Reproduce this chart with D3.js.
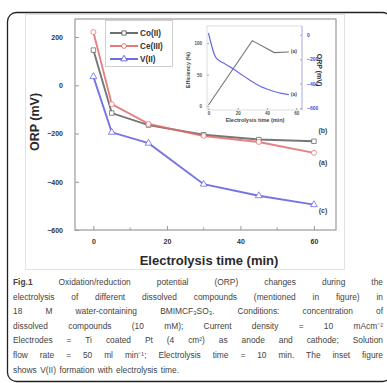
<!DOCTYPE html>
<html>
<head>
<meta charset="utf-8">
<script src="https://cdn.jsdelivr.net/npm/d3@7"></script>
<style>
  body { margin: 0; background: #fff; }
  svg { display: block; }
</style>
</head>
<body>
<main></main>
<script>
// Constants
const WIDTH = 387;
const HEIGHT = 383;
const FONT = '"Liberation Sans", Arial, sans-serif';

// Main chart data
const TIMES = [0, 5, 15, 30, 45, 60];
const SERIES = ['Co(II)', 'Ce(III)', 'V(II)'];
const CO_VALUES = [146, -115, -165, -205, -225, -232];
const CE_VALUES = [221, -78, -160, -210, -235, -280];
const V_VALUES = [36, -195, -240, -410, -458, -495];
const END_LABELS = ['(b)', '(a)', '(c)'];
const X_TICKS = [0, 20, 40, 60];
const X_MINOR = [10, 30, 50];
const Y_TICKS = [200, 0, -200, -400, -600];

// Inset data
const INSET_EFF_TIMES = [0, 30, 45, 55];
const INSET_EFF = [2, 104, 85, 86];
const INSET_ORP_TIMES = [0, 5, 10, 15, 20, 25, 30, 35, 40, 45, 50, 55];
const INSET_ORP = [15, -185, -230, -265, -305, -345, -385, -420, -445, -465, -480, -490];
const INSET_X_TICKS = [0, 20, 40, 60];
const INSET_EFF_TICKS = [0, 50, 100];
const INSET_ORP_TICKS = [0, -200, -400, -600];
const INSET_END_LABELS = ['(a)', '(a)'];

// Caption lines
const CAPTION = [
  ['Fig.1', 'Oxidation/reduction potential (ORP) changes during the'],
  ['', 'electrolysis of different dissolved compounds (mentioned in figure) in'],
  ['', '18 M water-containing BMIMCF\u2083SO\u2083. Conditions: concentration of'],
  ['', 'dissolved compounds (10 mM); Current density = 10 mAcm\u207B\u00B2'],
  ['', 'Electrodes = Ti coated Pt (4 cm\u00B2) as anode and cathode; Solution'],
  ['', 'flow rate = 50 ml min\u207B\u00B9; Electrolysis time = 10 min. The inset figure'],
  ['', 'shows V(II) formation with electrolysis time.'],
];

const COLORS = ['#5b605c', '#e36a6a', '#5c5ce0'];
const MARKERS = [d3.symbolSquare, d3.symbolCircle, d3.symbolTriangle];

const svg = d3.select('main')
  .append('svg')
  .attr('width', WIDTH)
  .attr('height', HEIGHT)
  .style('font-family', FONT);

// Outer rounded frame
svg.append('rect')
  .attr('x', 7.5).attr('y', 12.5)
  .attr('width', 384).attr('height', 369)
  .attr('rx', 9)
  .attr('fill', 'none')
  .attr('stroke', '#222')
  .attr('stroke-width', 1.3);

// Light figure frame
svg.append('rect')
  .attr('x', 25.5).attr('y', 14.5)
  .attr('width', 319).attr('height', 255)
  .attr('fill', 'none')
  .attr('stroke', '#e2e2e2');

// Scales
const xScale = d3.scaleLinear([-5, 66], [75, 336]);
const yScale = d3.scaleLinear([-600, 275], [230, 19]);

// Plot frame
svg.append('rect')
  .attr('x', 75).attr('y', 19)
  .attr('width', 261).attr('height', 211)
  .attr('fill', 'none')
  .attr('stroke', '#9a9a9a')
  .attr('stroke-width', 1.2);

// Axes
const yAxis = d3.axisLeft(yScale).tickValues(Y_TICKS)
  .tickSizeInner(-4).tickSizeOuter(0).tickPadding(12);
const xAxis = d3.axisBottom(xScale).tickValues(X_TICKS)
  .tickSizeInner(-4).tickSizeOuter(0).tickPadding(9);

const gy = svg.append('g').attr('transform', 'translate(75,0)').call(yAxis);
const gx = svg.append('g').attr('transform', 'translate(0,230)').call(xAxis);
[gx, gy].forEach((g) => {
  g.select('.domain').remove();
  g.selectAll('line').attr('stroke', '#999');
  g.selectAll('text')
    .attr('font-size', 7)
    .attr('font-weight', 'bold')
    .attr('font-family', FONT)
    .attr('fill', '#333');
});

svg.append('g')
  .selectAll('line')
  .data(X_MINOR)
  .join('line')
  .attr('x1', (d) => xScale(d)).attr('x2', (d) => xScale(d))
  .attr('y1', 230).attr('y2', 227.5)
  .attr('stroke', '#999');

// Axis titles
svg.append('text')
  .attr('x', 209).attr('y', 265)
  .attr('text-anchor', 'middle')
  .attr('font-size', 13)
  .attr('font-weight', 'bold')
  .attr('fill', '#2a2a2a')
  .text('Electrolysis time (min)');

svg.append('text')
  .attr('transform', 'translate(39,122) rotate(-90)')
  .attr('text-anchor', 'middle')
  .attr('font-size', 12.5)
  .attr('font-weight', 'bold')
  .attr('fill', '#2a2a2a')
  .text('ORP (mV)');

// Series
const seriesData = [CO_VALUES, CE_VALUES, V_VALUES].map((vals, i) => ({
  name: SERIES[i],
  color: COLORS[i],
  marker: MARKERS[i],
  label: END_LABELS[i],
  points: TIMES.map((t, j) => ({ t, v: vals[j] })),
}));

const line = d3.line().x((d) => xScale(d.t)).y((d) => yScale(d.v));

const gSeries = svg.append('g')
  .selectAll('g')
  .data(seriesData)
  .join('g');

gSeries.append('path')
  .attr('d', (d) => line(d.points))
  .attr('fill', 'none')
  .attr('stroke', (d) => d.color)
  .attr('stroke-width', 1.9)
  .attr('opacity', 0.85);

gSeries.selectAll('path.mk')
  .data((d) => d.points.map((p) => ({ ...p, s: d })))
  .join('path')
  .attr('class', 'mk')
  .attr('transform', (d) => `translate(${xScale(d.t)},${yScale(d.v)})`)
  .attr('d', (d) => d3.symbol(d.s.marker, 20)())
  .attr('fill', '#fff')
  .attr('stroke', (d) => d.s.color)
  .attr('stroke-opacity', 0.8)
  .attr('stroke-width', 0.9);

// End labels
const END_LABEL_Y = [130, 162, 210];
svg.append('g')
  .selectAll('text')
  .data(END_LABELS)
  .join('text')
  .attr('x', 323)
  .attr('y', (d, i) => END_LABEL_Y[i] + 2.5)
  .attr('text-anchor', 'middle')
  .attr('font-size', 7)
  .attr('font-weight', 'bold')
  .attr('fill', '#444')
  .text((d) => d);

// Legend
const legend = svg.append('g');
legend.append('rect')
  .attr('x', 105.5).attr('y', 20.5)
  .attr('width', 67).attr('height', 46)
  .attr('fill', '#fff')
  .attr('stroke', '#cfcfcf');
const legendRows = legend.selectAll('g')
  .data(seriesData)
  .join('g')
  .attr('transform', (d, i) => `translate(0,${33 + i * 13})`);
legendRows.append('line')
  .attr('x1', 110).attr('x2', 138)
  .attr('stroke', (d) => d.color)
  .attr('stroke-width', 1.8);
legendRows.append('path')
  .attr('transform', 'translate(124,0)')
  .attr('d', (d) => d3.symbol(d.marker, 18)())
  .attr('fill', '#fff')
  .attr('stroke', (d) => d.color)
  .attr('stroke-width', 0.9);
legendRows.append('text')
  .attr('x', 140).attr('y', 3)
  .attr('font-size', 8.2)
  .attr('font-weight', 'bold')
  .attr('fill', '#333')
  .text((d) => d.name);

// Inset
const inX = d3.scaleLinear([-1, 64], [207, 302]);
const inEff = d3.scaleLinear([-6, 124], [110, 28]);
const inOrp = d3.scaleLinear([-625, 15], [111, 33]);

const inset = svg.append('g');
inset.append('rect')
  .attr('x', 207).attr('y', 26)
  .attr('width', 95).attr('height', 84)
  .attr('fill', '#fff')
  .attr('stroke', '#d4d4d4')
  .attr('stroke-width', 0.8);

const inAxX = d3.axisBottom(inX).tickValues(INSET_X_TICKS)
  .tickSizeInner(-2).tickSizeOuter(0).tickPadding(2);
const inAxL = d3.axisLeft(inEff).tickValues(INSET_EFF_TICKS)
  .tickSizeInner(-2).tickSizeOuter(0).tickPadding(5);
const inAxR = d3.axisRight(inOrp).tickValues(INSET_ORP_TICKS)
  .tickSizeInner(-2).tickSizeOuter(0).tickPadding(5);

const ix = inset.append('g').attr('transform', 'translate(0,110)').call(inAxX);
const il = inset.append('g').attr('transform', 'translate(207,0)').call(inAxL);
const ir = inset.append('g').attr('transform', 'translate(302,0)').call(inAxR);
[ix, il, ir].forEach((g) => {
  g.select('.domain').remove();
  g.selectAll('line').attr('stroke', '#aaa');
  g.selectAll('text')
    .attr('font-size', 4.5)
    .attr('font-weight', 'bold')
    .attr('font-family', FONT)
    .attr('fill', '#555');
});
ir.selectAll('text').attr('fill', '#4a4ad8').attr('font-size', 5);
ir.append('line')
  .attr('y1', 26).attr('y2', 110)
  .attr('stroke', '#b8b8f0');

inset.append('text')
  .attr('x', 255).attr('y', 122)
  .attr('text-anchor', 'middle')
  .attr('font-size', 5.5)
  .attr('font-weight', 'bold')
  .attr('fill', '#444')
  .text('Electrolysis time (min)');

inset.append('text')
  .attr('transform', 'translate(190,70) rotate(-90)')
  .attr('text-anchor', 'middle')
  .attr('font-size', 5.5)
  .attr('font-weight', 'bold')
  .attr('fill', '#444')
  .text('Efficiency (%)');

inset.append('text')
  .attr('transform', 'translate(317,70) rotate(90)')
  .attr('text-anchor', 'middle')
  .attr('font-size', 7)
  .attr('font-weight', 'bold')
  .attr('fill', '#333')
  .text('ORP (mV)');

const effLine = d3.line().x((d, i) => inX(INSET_EFF_TIMES[i])).y((d) => inEff(d));
const orpLine = d3.line().curve(d3.curveMonotoneX)
  .x((d, i) => inX(INSET_ORP_TIMES[i])).y((d) => inOrp(d));

inset.append('path')
  .attr('d', effLine(INSET_EFF))
  .attr('fill', 'none')
  .attr('stroke', '#777')
  .attr('stroke-width', 1.1);
inset.append('path')
  .attr('d', orpLine(INSET_ORP))
  .attr('fill', 'none')
  .attr('stroke', '#6a6ae4')
  .attr('stroke-width', 1.2);

const lastEff = INSET_EFF.length - 1;
const lastOrp = INSET_ORP.length - 1;
inset.append('text')
  .attr('x', inX(INSET_EFF_TIMES[lastEff]) + 2)
  .attr('y', inEff(INSET_EFF[lastEff]) + 1)
  .attr('font-size', 5).attr('font-weight', 'bold').attr('fill', '#555')
  .text(INSET_END_LABELS[0]);
inset.append('text')
  .attr('x', inX(INSET_ORP_TIMES[lastOrp]) + 2)
  .attr('y', inOrp(INSET_ORP[lastOrp]) + 1)
  .attr('font-size', 5).attr('font-weight', 'bold').attr('fill', '#555')
  .text(INSET_END_LABELS[1]);

// Caption, justified line by line
const CAP_LEFT = 13;
const CAP_RIGHT = 383;
const CAP_TOP = 285;
const CAP_STEP = 14.6;
const cap = svg.append('g')
  .attr('font-size', 8.4)
  .attr('fill', '#444');

CAPTION.forEach(([bold, rest], i) => {
  const y = CAP_TOP + i * CAP_STEP;
  const words = [];
  if (bold) words.push({ w: bold, b: true });
  rest.split(' ').forEach((w) => words.push({ w, b: false }));
  const nodes = words.map((d) => cap.append('text')
    .attr('y', y)
    .attr('font-weight', d.b ? 'bold' : 'normal')
    .text(d.w));
  const widths = nodes.map((n) => n.node().getComputedTextLength());
  const total = d3.sum(widths);
  const last = i === CAPTION.length - 1;
  const gap = last ? 3.4 : (CAP_RIGHT - CAP_LEFT - total) / (nodes.length - 1);
  let x = CAP_LEFT;
  nodes.forEach((n, j) => {
    n.attr('x', x);
    x += widths[j] + gap;
  });
});
</script>
</body>
</html>
